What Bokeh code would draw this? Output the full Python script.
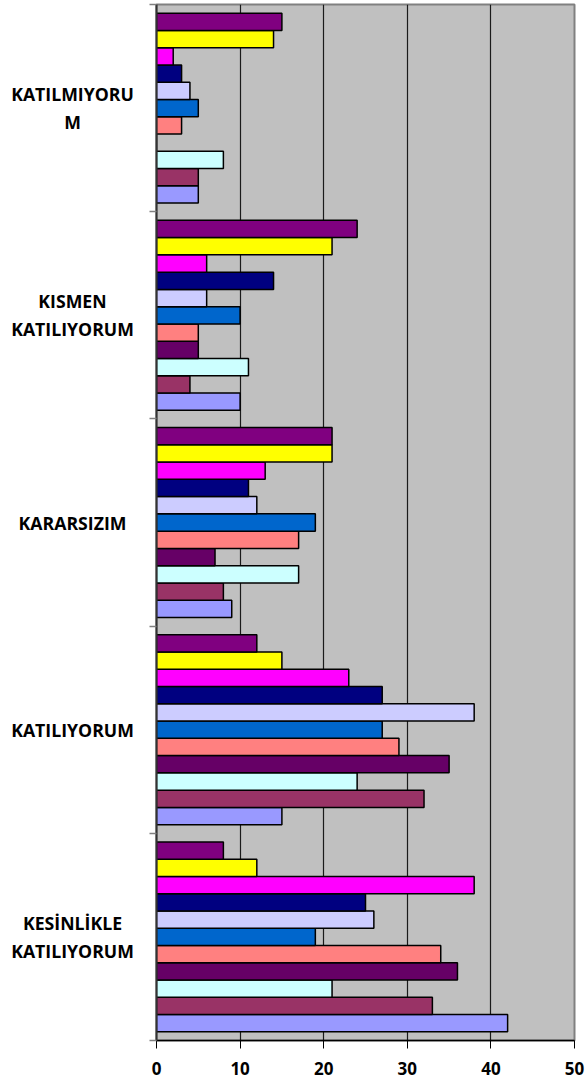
from bokeh.plotting import figure
from bokeh.layouts import row
from bokeh.models import Range1d, FixedTicker, ColumnDataSource, CustomLabelingPolicy
from bokeh.core.properties import value
from bokeh.embed import file_html
from bokeh.resources import INLINE

# categories, bottom to top
categories = ["KESİNLİKLE KATILIYORUM", "KATILIYORUM", "KARARSIZIM",
              "KISMEN KATILIYORUM", "KATILMIYORUM"]
category_labels = ["KESİNLİKLE\nKATILIYORUM", "KATILIYORUM", "KARARSIZIM",
                   "KISMEN\nKATILIYORUM", "KATILMIYORU\nM"]

# series values (one per category, bottom to top); series drawn bottom to top inside each group
s1 = [42, 15, 9, 10, 5]
s2 = [33, 32, 8, 4, 5]
s3 = [21, 24, 17, 11, 8]
s4 = [36, 35, 7, 5, 0]
s5 = [34, 29, 17, 5, 3]
s6 = [19, 27, 19, 10, 5]
s7 = [26, 38, 12, 6, 4]
s8 = [25, 27, 11, 14, 3]
s9 = [38, 23, 13, 6, 2]
s10 = [12, 15, 21, 21, 14]
s11 = [8, 12, 21, 24, 15]
series = [s1, s2, s3, s4, s5, s6, s7, s8, s9, s10, s11]
colors = ["#9999FF", "#993366", "#CCFFFF", "#660066", "#FF8080", "#0066CC",
          "#CCCCFF", "#000080", "#FF00FF", "#FFFF00", "#800080"]
x_ticks = [0, 10, 20, 30, 40, 50]

FONT = "Open Sans"
LEFT_W = 136

y_range = Range1d(0, len(categories))

# ---- label column (category names) ----
lab = figure(width=LEFT_W, height=1084, output_backend="svg", toolbar_location=None,
             x_range=Range1d(0, LEFT_W), y_range=y_range,
             min_border_left=0, min_border_right=0, min_border_top=4,
             min_border_bottom=44)
lab.axis.visible = False
lab.grid.visible = False
lab.outline_line_color = None
lab.background_fill_color = "white"
lab.text(x=[72] * len(categories), y=[i + 0.5 for i in range(len(categories))],
         text=category_labels, text_align="center", text_baseline="middle",
         text_font=value(FONT), text_font_style="bold", text_font_size="17.7px",
         text_line_height=1.18, text_color="black")

# ---- main chart ----
p = figure(width=585 - LEFT_W, height=1084, output_backend="svg", toolbar_location=None,
           x_range=Range1d(0, 50), y_range=y_range,
           min_border_left=20, min_border_right=11, min_border_top=4,
           min_border_bottom=44)
p.background_fill_color = "#C0C0C0"
p.border_fill_color = "white"
p.outline_line_color = "#808080"
p.outline_line_width = 2

n = len(series)
slot = 1.0 / (n + 1)
for j, vals in enumerate(series):
    src = ColumnDataSource(dict(
        y=[i + (j + 1) * slot for i in range(len(categories))],
        right=vals,
    ))
    p.hbar(y="y", right="right", left=0, height=slot, source=src,
           fill_color=colors[j], line_color="black", line_width=1.5)

# x axis
p.xaxis.ticker = FixedTicker(ticks=x_ticks)
p.xaxis.axis_line_color = "black"
p.xaxis.axis_line_width = 1.5
p.xaxis.major_tick_line_color = "black"
p.xaxis.major_tick_out = 8
p.xaxis.major_tick_in = 0
p.xaxis.minor_tick_line_color = None
p.xaxis.major_label_text_font = FONT
p.xaxis.major_label_text_font_style = "bold"
p.xaxis.major_label_text_font_size = "17px"
p.xaxis.major_label_text_color = "black"
p.xaxis.major_label_standoff = 13

# y axis (ticks only, names drawn in the label column)
p.yaxis.ticker = FixedTicker(ticks=list(range(len(categories) + 1)))
p.yaxis.axis_line_color = "#333333"
p.yaxis.axis_line_width = 2
p.yaxis.major_tick_line_color = "#808080"
p.yaxis.major_tick_line_width = 1.5
p.yaxis.major_tick_out = 7
p.yaxis.major_tick_in = 0
p.yaxis.minor_tick_line_color = None
p.yaxis.major_label_standoff = 0
p.yaxis.major_label_policy = CustomLabelingPolicy(code="return new Set()")

# grids
p.xgrid.ticker = FixedTicker(ticks=x_ticks[1:-1])
p.xgrid.grid_line_color = "#1a1a1a"
p.xgrid.grid_line_width = 1.2
p.ygrid.grid_line_color = None

layout = row(lab, p, spacing=0)
open("out.html", "w").write(file_html(layout, INLINE))
